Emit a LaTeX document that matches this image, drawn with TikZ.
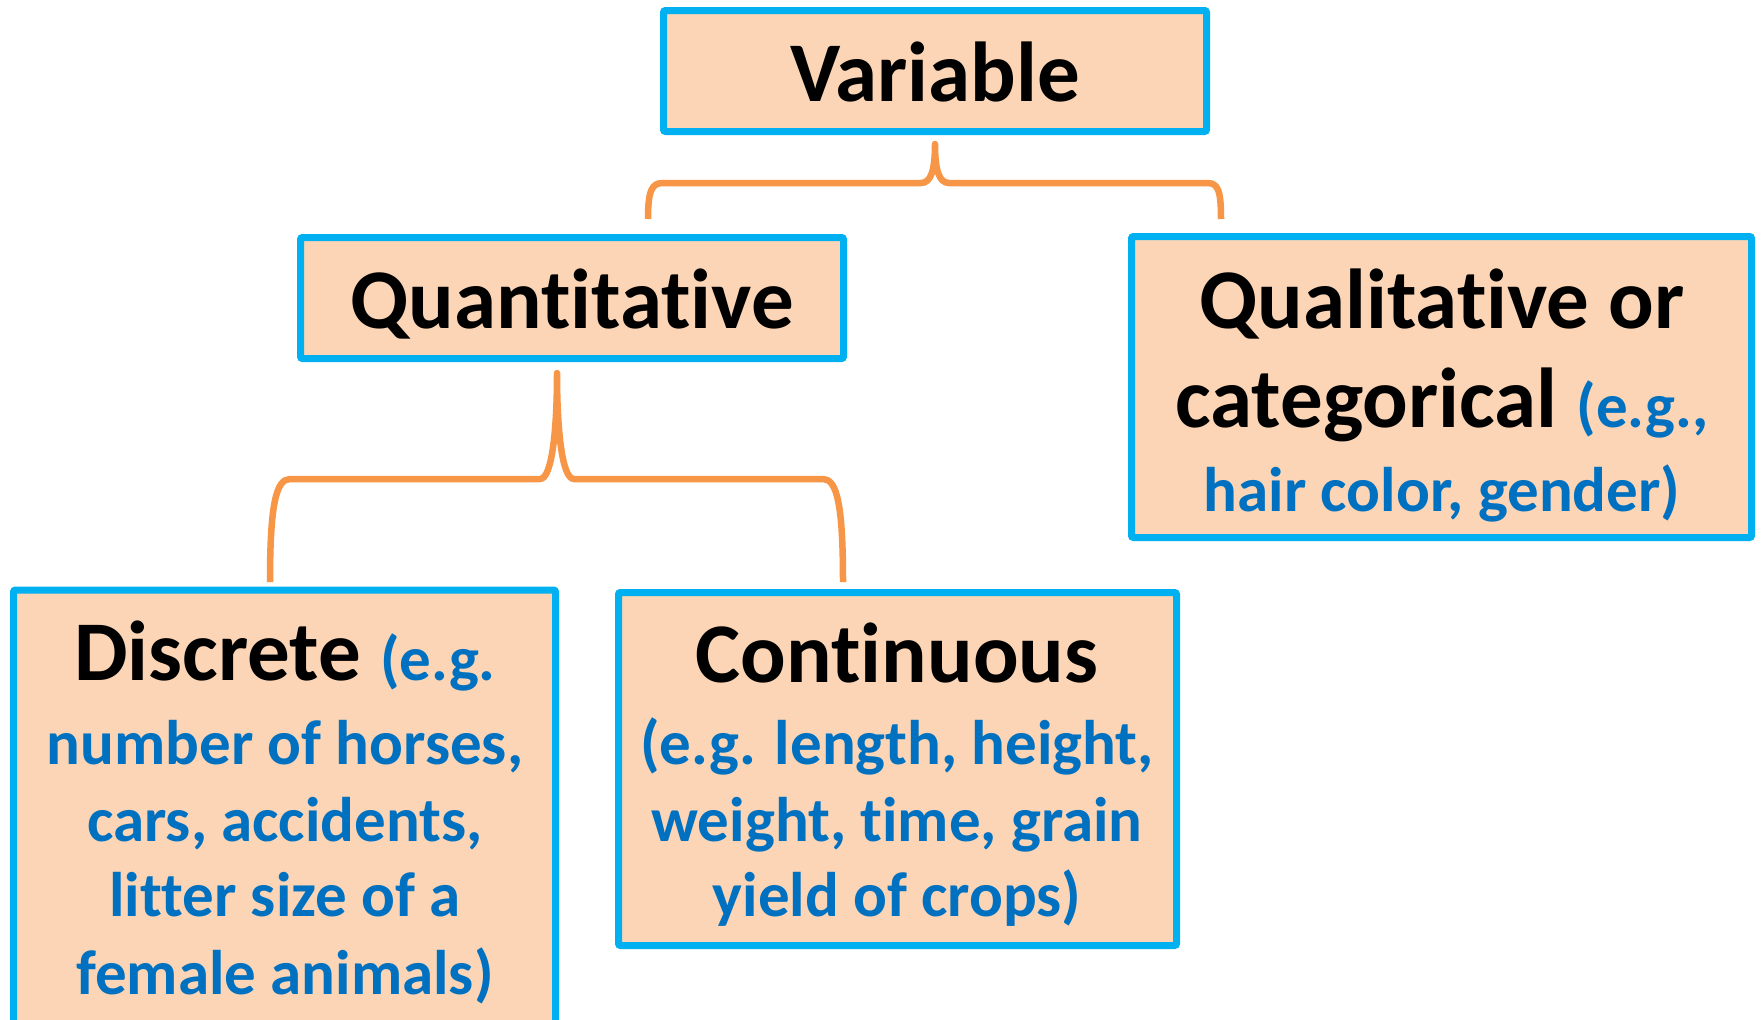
\documentclass[tikz,border=0pt]{standalone}
\usepackage{fontspec}
\setmainfont{Carlito}[Ligatures={NoCommon,NoContextual,NoRare}, Contextuals={NoAlternate}]
\definecolor{boxfill}{HTML}{FBD5B5}
\definecolor{boxline}{HTML}{00B0F0}
\definecolor{bracec}{HTML}{F79646}
\definecolor{txtblue}{HTML}{0070C0}
\tikzset{
 box/.style={draw=boxline, fill=boxfill, line width=7pt, rounded corners=2pt, inner sep=0pt},
 bigtxt/.style={anchor=base, inner sep=0pt, font=\bfseries\fontsize{85}{100}\selectfont},
 smalltxt/.style={anchor=base, inner sep=0pt, font=\bfseries\fontsize{63}{76}\selectfont, text=txtblue},
 bracepath/.style={draw=bracec, line width=6.5pt, line join=round}
}
\newcommand{\egtext}[1]{{\fontsize{63}{76}\selectfont\color{txtblue}#1}}
\begin{document}
\begin{tikzpicture}[x=1pt,y=-1pt]
\useasboundingbox (0,0) rectangle (1762,1020);
\fill[white] (0,0) rectangle (1762,1020);
% boxes
\node[box, minimum width=543pt, minimum height=121pt] (var) at (935,71) {};
\node[box, minimum width=543pt, minimum height=121pt] (quant) at (572,298) {};
\node[box, minimum width=620pt, minimum height=301pt] (qual) at (1441.5,387) {};
\node[box, minimum width=542pt, minimum height=452pt] (disc) at (284.5,816) {};
\node[box, minimum width=558pt, minimum height=353pt] (cont) at (897.5,769) {};
% texts
\node[bigtxt] (tvar) at (935,101) {Variable};
\node[bigtxt] (tquant) at (572,328) {Quant\kern0pt itat\kern0pt ive};
\node[bigtxt] (tqual1) at (1442,328) {Qualitat\kern0pt ive or};
\node[bigtxt] (tqual2) at (1442,427) {categorical \egtext{(e.g.,}};
\node[smalltxt] (tqual3) at (1442,511) {hair color, gender)};
\node[bigtxt] (tdisc1) at (285,680) {Discrete \egtext{(e.g.}};
\node[smalltxt] (tdisc2) at (285,764) {number of horses,};
\node[smalltxt] (tdisc3) at (285,841) {cars, accidents,};
\node[smalltxt] (tdisc4) at (285,916) {litter size of a};
\node[smalltxt] (tdisc5) at (285,994) {female animals)};
\node[bigtxt] (tcont1) at (897,682) {Cont\kern0pt inuous};
\node[smalltxt] (tcont2) at (897,764) {(e.g. length, height,};
\node[smalltxt] (tcont3) at (897,841) {weight, t\kern0pt ime, grain};
\node[smalltxt] (tcont4) at (897,916) {yield of crops)};
% brace 1
\coordinate (b1l) at (648,219);
\coordinate (b1t) at (935,144);
\coordinate (b1r) at (1221,219);
\draw[bracepath] (b1l) .. controls (648,190) and (652,183) .. (663,183) -- (921,183)
  .. controls (931,183) and (935,170) .. (b1t)
  .. controls (935,170) and (939,183) .. (949,183) -- (1207,183)
  .. controls (1218,183) and (1221,190) .. (b1r);
% brace 2
\coordinate (b2l) at (270,582);
\coordinate (b2t) at (557,373);
\coordinate (b2r) at (843,582);
\draw[bracepath] (b2l) .. controls (270,505) and (276,479) .. (290,479) -- (540,479)
  .. controls (552,479) and (557,430) .. (b2t)
  .. controls (557,430) and (562,479) .. (574,479) -- (823,479)
  .. controls (837,479) and (843,505) .. (b2r);
\end{tikzpicture}
\end{document}
